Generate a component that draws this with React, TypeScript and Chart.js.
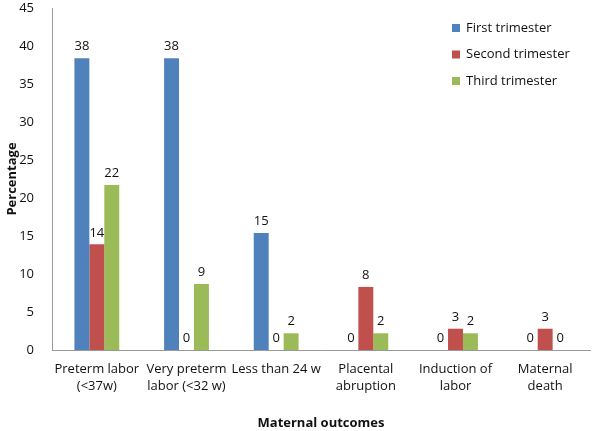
import React, { useEffect, useRef } from "react";
import { Chart, registerables } from "chart.js";

Chart.register(...registerables);

const categories: (string | string[])[] = [
  ["Preterm labor", "(<37w)"],
  ["Very preterm", "labor (<32 w)"],
  "Less than 24 w",
  ["Placental", "abruption"],
  ["Induction of", "labor"],
  ["Maternal", "death"],
];
const seriesNames = ["First trimester", "Second trimester", "Third trimester"];
const firstTrimester = [38.4, 38.4, 15.4, 0, 0, 0];
const secondTrimester = [13.9, 0, 0, 8.3, 2.8, 2.8];
const thirdTrimester = [21.7, 8.7, 2.2, 2.2, 2.2, 0];
const yTicks = [0, 5, 10, 15, 20, 25, 30, 35, 40, 45];

const colors = ["#4F81BD", "#C0504D", "#9BBB59"];
const FONT = "'Open Sans', 'Noto Sans', sans-serif";

const labelPlugin = {
  id: "valueLabels",
  afterDatasetsDraw(chart: any) {
    const ctx = chart.ctx;
    ctx.save();
    ctx.font = `13px ${FONT}`;
    ctx.fillStyle = "#111";
    ctx.textAlign = "center";
    ctx.textBaseline = "bottom";
    chart.data.datasets.forEach((ds: any, i: number) => {
      const meta = chart.getDatasetMeta(i);
      meta.data.forEach((bar: any, j: number) => {
        const v = ds.data[j] as number;
        ctx.fillText(String(Math.round(v)), bar.x, bar.y - 5);
      });
    });
    ctx.restore();
  },
};

const legendPlugin = {
  id: "sideLegend",
  afterDraw(chart: any) {
    const ctx = chart.ctx;
    ctx.save();
    ctx.font = `13px ${FONT}`;
    ctx.textBaseline = "middle";
    ctx.textAlign = "left";
    chart.data.datasets.forEach((ds: any, i: number) => {
      const y = 28 + i * 26.5;
      ctx.fillStyle = ds.backgroundColor;
      ctx.fillRect(452, y - 4, 8, 8);
      ctx.fillStyle = "#111";
      ctx.fillText(ds.label, 466, y);
    });
    ctx.restore();
  },
};

export default function App() {
  const ref = useRef<HTMLCanvasElement | null>(null);
  useEffect(() => {
    if (!ref.current) return;
    const chart = new Chart(ref.current, {
      type: "bar",
      data: {
        labels: categories,
        datasets: [firstTrimester, secondTrimester, thirdTrimester].map((d, i) => ({
          label: seriesNames[i],
          data: d,
          backgroundColor: colors[i],
          barPercentage: 1,
          categoryPercentage: 0.5,
        })),
      },
      options: {
        animation: false,
        responsive: false,
        maintainAspectRatio: false,
        layout: { padding: { top: 8, right: 10, left: 0, bottom: 0 } },
        plugins: { legend: { display: false }, tooltip: { enabled: false } },
        scales: {
          x: {
            grid: { display: false },
            border: { color: "#999" },
            ticks: { color: "#111", font: { family: FONT, size: 13, lineHeight: 1.3 }, padding: 3, maxRotation: 0, autoSkip: false },
            title: { display: true, text: "Maternal outcomes", color: "#111", padding: { top: 0, bottom: 0 }, font: { family: FONT, size: 13, weight: "bold" } },
            afterFit: (s: any) => { s.height = 81; },
          },
          y: {
            min: 0,
            max: 45,
            grid: { display: false },
            border: { color: "#999" },
            afterBuildTicks: (s: any) => { s.ticks = yTicks.map((v) => ({ value: v })); },
            ticks: { color: "#111", font: { family: FONT, size: 13 }, padding: 10 },
            title: { display: true, text: "Percentage", color: "#111", padding: { top: 4, bottom: 0 }, font: { family: FONT, size: 13, weight: "bold" } },
            afterFit: (s: any) => { s.width = 52; s.paddingTop = 0; s.paddingBottom = 0; },
          },
        },
      },
      plugins: [labelPlugin, legendPlugin],
    });
    return () => chart.destroy();
  }, []);
  return (
    <div style={{ position: "fixed", left: 0, top: 0, width: 600, height: 431, background: "#fff" }}>
      <canvas ref={ref} width={600} height={431} style={{ width: 600, height: 431 }} />
    </div>
  );
}
